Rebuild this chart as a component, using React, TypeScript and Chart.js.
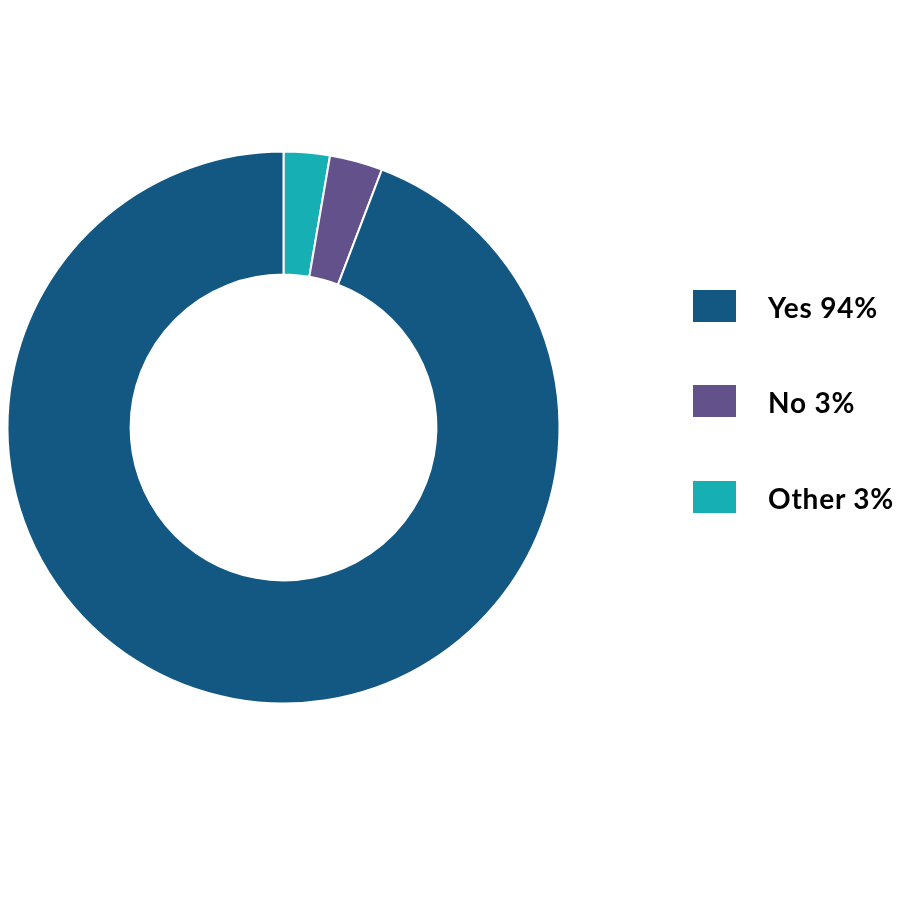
import React, { useEffect, useRef } from "react";
import { Chart, registerables } from "chart.js";

Chart.register(...registerables);

const categories = ["Yes", "No", "Other"];
const legendLabels = ["Yes 94%", "No 3%", "Other 3%"];
const values = [94.2, 3.1, 2.7];
const colors = ["#135883", "#63518B", "#16AFB4"];

export default function App() {
  const canvasRef = useRef<HTMLCanvasElement | null>(null);

  useEffect(() => {
    if (!canvasRef.current) return;
    // drawn clockwise from 12 o'clock: Other, No, Yes
    const order = [2, 1, 0];
    const chart = new Chart(canvasRef.current, {
      type: "doughnut",
      data: {
        labels: order.map((i) => categories[i]),
        datasets: [
          {
            data: order.map((i) => values[i]),
            backgroundColor: order.map((i) => colors[i]),
            borderColor: "#ffffff",
            borderWidth: 2,
            hoverOffset: 0,
          },
        ],
      },
      options: {
        responsive: false,
        animation: false,
        cutout: "55.4%",
        layout: { padding: { left: 6.5, right: 339.5, top: 0, bottom: 45 } },
        plugins: {
          legend: { display: false },
          tooltip: { enabled: false },
        },
      },
    });
    return () => chart.destroy();
  }, []);

  const rowTops = [290, 385, 481];

  return (
    <div style={{ position: "absolute", left: 0, top: 0, width: 900, height: 900, background: "#fff" }}>
      <canvas ref={canvasRef} width={900} height={900} style={{ position: "absolute", left: 0, top: 0 }} />
      {categories.map((c, i) => (
        <div key={c}>
          <div
            style={{
              position: "absolute",
              left: 693,
              top: rowTops[i],
              width: 43,
              height: 32,
              background: colors[i],
            }}
          />
          <div
            style={{
              position: "absolute",
              left: 768,
              top: rowTops[i] + 1,
              height: 32,
              lineHeight: "32px",
              fontFamily: "Lato, sans-serif",
              fontWeight: 700,
              fontSize: 28,
              letterSpacing: "0.8px",
              color: "#000",
              whiteSpace: "nowrap",
            }}
          >
            {legendLabels[i]}
          </div>
        </div>
      ))}
    </div>
  );
}
